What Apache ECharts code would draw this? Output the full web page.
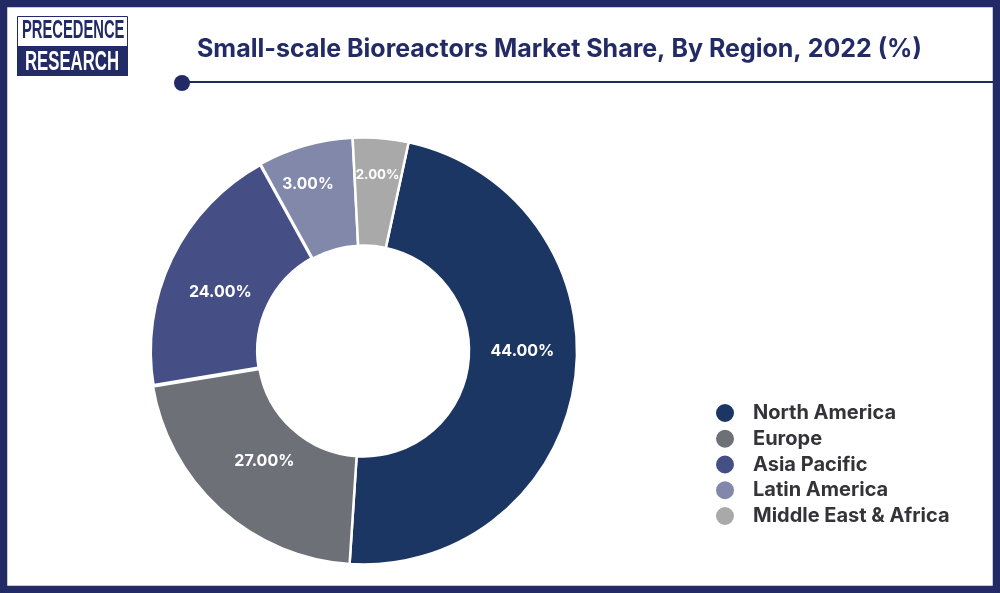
<!DOCTYPE html>
<html><head><meta charset="utf-8">
<style>html,body{margin:0;padding:0;background:#fff}#c{width:1000px;height:593px}</style>
<script src="https://cdn.jsdelivr.net/npm/echarts@6/dist/echarts.min.js"></script>
</head><body><div id="c"></div>
<script>
const regions = ['North America','Europe','Asia Pacific','Latin America','Middle East & Africa'];
const sliceShares = [47.65, 21.35, 19.6, 7.2, 4.2];
const printedLabels = ['44.00%','27.00%','24.00%','3.00%','2.00%'];
const colors = ['#1c3663','#6d7076','#454f86','#8188a9','#a9a9a9'];
const titleText = 'Small-scale Bioreactors Market Share, By Region, 2022 (%)';

const NAVY = '#232b66';
const labelShift = [[-2,-22],[10,-10],[3,12],[-11,-10],[1,-14]];
const labelSize = [16,16,16,15.6,13.3];
const borderW = [2.5,2.5,4,2.5,2.5];
const FONT = 'Inter, "Open Sans", sans-serif';
const LOGO = '700 25px "Liberation Sans", sans-serif';

const chart = echarts.init(document.getElementById('c'), null, {renderer:'canvas'});
chart.setOption({
  animation:false,
  backgroundColor:'#fff',
  color:colors,
  legend:{
    orient:'vertical', left:714, top:402, padding:0, itemWidth:20, itemHeight:20, itemGap:3.75,
    icon:'circle', selectedMode:false, data:regions,
    textStyle:{fontFamily:FONT,fontWeight:700,fontSize:20,color:'#333339',padding:[0,0,0,13]}
  },
  series:[{
    type:'pie', center:[363.5,351], radius:[105.5,213.5], startAngle:77.8, clockwise:true,
    silent:true, avoidLabelOverlap:false, labelLine:{show:false},
    data:regions.map((name,i)=>({
      name, value:sliceShares[i],
      itemStyle:{color:colors[i],borderColor:'#fff',borderWidth:borderW[i]},
      label:{show:true,position:'inside',formatter:printedLabels[i],offset:labelShift[i],
        color:'#fff',fontFamily:FONT,fontWeight:700,fontSize:labelSize[i]}
    }))
  }],
  graphic:[
    {type:'rect',silent:true,z:10,shape:{x:3.5,y:3.5,width:993,height:586},style:{fill:'none',stroke:NAVY,lineWidth:7.5}},
    {type:'text',silent:true,z:10,x:197,y:36.5,style:{text:titleText,font:'700 25px '+FONT,fill:NAVY}},
    {type:'rect',silent:true,z:10,shape:{x:182,y:81,width:812,height:2},style:{fill:'#1f2a55'}},
    {type:'circle',silent:true,z:10,shape:{cx:182,cy:83,r:8},style:{fill:NAVY}},
    {type:'rect',silent:true,z:10,shape:{x:17.5,y:16.5,width:110,height:59},style:{fill:'#fff',stroke:NAVY,lineWidth:1}},
    {type:'rect',silent:true,z:10,shape:{x:17,y:46,width:111,height:30},style:{fill:NAVY}},
    {type:'text',silent:true,z:11,x:22,y:19,scaleX:0.59,style:{text:'PRECEDENCE',font:LOGO,fill:NAVY}},
    {type:'text',silent:true,z:11,x:25,y:49,scaleX:0.67,scaleY:1.08,style:{text:'RESEARCH',font:LOGO,fill:'#fff'}}
  ]
});
</script></body></html>
